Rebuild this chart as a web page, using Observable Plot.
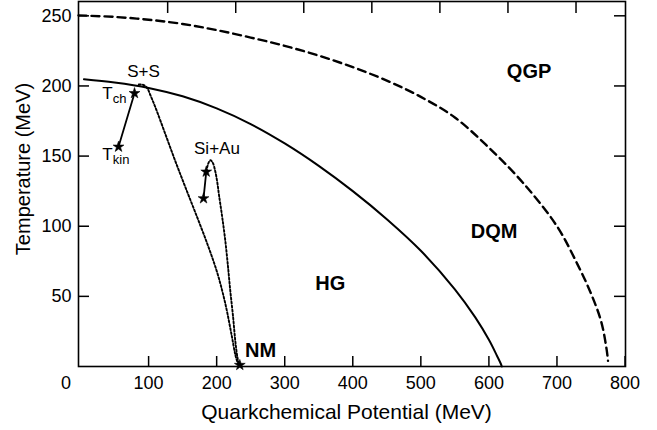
<!DOCTYPE html>
<html>
<head>
<meta charset="utf-8">
<script src="https://cdn.jsdelivr.net/npm/d3@7"></script>
<script src="https://cdn.jsdelivr.net/npm/@observablehq/plot@0.6"></script>
<style>
  html, body { margin: 0; padding: 0; background: #fff; }
</style>
</head>
<body>
<div id="chart"></div>
<script>
// ---- data (quarkchemical potential μ in MeV, temperature T in MeV) ----
const xTicks = [100, 200, 300, 400, 500, 600, 700, 800];
const topTicks = [128, 228, 328, 428, 528, 628, 728];
const yTicks = [50, 100, 150, 200, 250];

// hadron gas boundary (solid)
const hgBoundary = [[5,204.8],[50,202.5],[100,198.6],[150,192.6],[200,184],[250,172.8],[300,159],[350,143],[400,125],[450,105],[500,82.5],[550,55],[580,35],[600,19],[612,7.5],[617,2.5],[619,0]];
// deconfinement boundary (dashed)
const qgpBoundary = [[-3,250.3],[50,249.2],[100,247.2],[150,244.2],[200,239.8],[250,234.5],[300,228.6],[350,221.6],[400,213.4],[450,203.8],[500,192.2],[550,177.5],[600,156],[650,131],[700,100],[730,73],[750,52],[765,32],[773,12],[775,4]];
// collision trajectories (dotted)
const ssTrajectory = [[85.6,201],[92,200.8],[97.9,198.5],[102.8,193.2],[110.1,184.6],[124.8,165.4],[139.5,146.1],[154.2,127.6],[170.4,107.6],[186.6,87],[201.2,66.3],[213,44.2],[221.8,22.8],[227.7,7.8],[231.5,1.5]];
const siauTrajectory = [[184.7,139],[187.5,144.5],[190.6,147],[194,145.5],[198,139],[201,131],[203.5,122],[208,107],[212.6,90],[216.5,72],[220,54],[224,36],[227.3,18.6],[230,8],[232.5,1.5]];
// freeze-out points
const ssPoints = [[79.3,194.8],[55.8,156.6]];
const siauPoints = [[184.7,138.8],[180.7,119.8]];
const nmPoint = [[234,1]];

// region labels
const regionNames = ["QGP", "DQM", "HG", "NM"];
const regionMu = [659, 607.6, 367, 264.4];
const regionT = [210.2, 96, 59, 11.4];

// system labels
const systemNames = ["S+S", "Si+Au"];
const systemMu = [92.6, 200.4];
const systemT = [210.2, 155.5];

// temperature labels (T with subscript)
const tempSubs = ["ch", "kin"];
const tempMu = [31.9, 31.9];
const tempT = [194.8, 151.3];

const regions = regionNames.map((s, i) => ({s, mu: regionMu[i], T: regionT[i]}));
const systems = systemNames.map((s, i) => ({s, mu: systemMu[i], T: systemT[i]}));
const temps = tempSubs.map((s, i) => ({s, mu: tempMu[i], T: tempT[i]}));
const origin = [{s: "0", mu: 0, T: 0}];

const W = 657, H = 430, mL = 78, mR = 32, mT = 1, mB = 64;
const pw = W - mL - mR, ph = H - mT - mB;
const px = d => d[0], py = d => d[1];

const chart = Plot.plot({
  width: W, height: H,
  marginLeft: mL, marginRight: mR, marginTop: mT, marginBottom: mB,
  x: {domain: [-3, 800.7]},
  y: {domain: [0, 260.2]},
  style: {fontFamily: "'Liberation Sans', Arial, Helvetica, sans-serif", fontSize: "18px", color: "black", background: "white", overflow: "visible"},
  marks: [
    // inward ticks
    Plot.tickY(yTicks, {y: d => d, insetRight: pw - 11, stroke: "black", strokeWidth: 1.5}),
    Plot.tickY(yTicks, {y: d => d, insetLeft: pw - 11, stroke: "black", strokeWidth: 1.5}),
    Plot.tickX(xTicks, {x: d => d, insetTop: ph - 10, stroke: "black", strokeWidth: 1.5}),
    Plot.tickX(topTicks, {x: d => d, insetBottom: ph - 12, stroke: "black", strokeWidth: 1.5}),
    Plot.axisX(xTicks, {anchor: "bottom", tickSize: 0, tickPadding: 10, fontSize: 18, label: null}),
    Plot.axisY(yTicks, {anchor: "left", tickSize: 0, tickPadding: 7, fontSize: 18, label: null}),
    Plot.text(origin, {x: "mu", y: "T", text: "s", dx: -14.5, dy: 10, lineAnchor: "top", fontSize: 18}),
    Plot.text(["Quarkchemical Potential (MeV)"], {text: d => d, frameAnchor: "bottom", textAnchor: "middle", lineAnchor: "middle", dx: -5.5, dy: 45.5, fontSize: 21}),
    Plot.text(["Temperature (MeV)"], {text: d => d, frameAnchor: "left", textAnchor: "middle", lineAnchor: "middle", rotate: -90, dx: -55, dy: -15, fontSize: 20}),
    Plot.frame({stroke: "black", strokeWidth: 1.6}),
    // curves
    Plot.line(qgpBoundary, {x: px, y: py, curve: "catmull-rom", stroke: "black", strokeWidth: 2.4, strokeDasharray: "8,5"}),
    Plot.line(hgBoundary, {x: px, y: py, curve: "catmull-rom", stroke: "black", strokeWidth: 2}),
    Plot.line(ssTrajectory, {x: px, y: py, curve: "catmull-rom", stroke: "black", strokeWidth: 1.9, strokeDasharray: "2,2"}),
    Plot.line(siauTrajectory, {x: px, y: py, curve: "catmull-rom", stroke: "black", strokeWidth: 1.9, strokeDasharray: "2,2"}),
    Plot.line(ssPoints, {x: px, y: py, stroke: "black", strokeWidth: 1.8}),
    Plot.line(siauPoints, {x: px, y: py, stroke: "black", strokeWidth: 1.8}),
    Plot.dot([...ssPoints, ...siauPoints, ...nmPoint], {x: px, y: py, symbol: "star", r: 3.4, fill: "black", stroke: "black", strokeWidth: 0.6}),
    // labels
    Plot.text(regions, {x: "mu", y: "T", text: "s", fontSize: 20, fontWeight: "bold"}),
    Plot.text(systems, {x: "mu", y: "T", text: "s", fontSize: 17}),
    Plot.text(temps, {x: "mu", y: "T", text: () => "T", textAnchor: "start", fontSize: 17}),
    Plot.text(temps, {x: "mu", y: "T", text: "s", textAnchor: "start", dx: 10.5, dy: 6, fontSize: 13})
  ]
});
document.getElementById("chart").appendChild(chart);
</script>
</body>
</html>
